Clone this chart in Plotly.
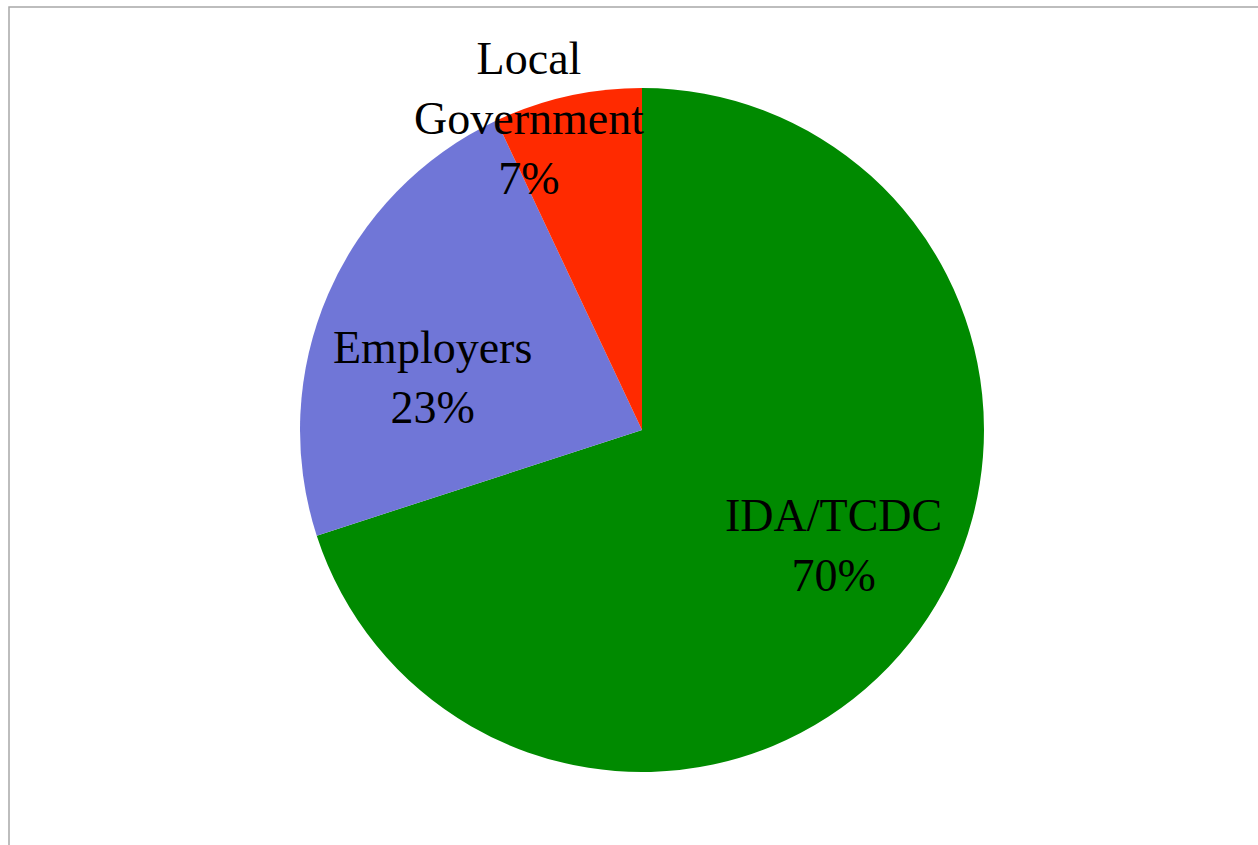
import plotly.graph_objects as go

labels = ["IDA/TCDC", "Employers", "Local<br>Government"]
values = [70, 23, 7]
colors = ["#008a00", "#7076d7", "#ff2a00"]

W, H = 1258, 845
cx, cy, r = 642, 430, 342

fig = go.Figure()
fig.add_trace(go.Pie(
    labels=labels,
    values=values,
    sort=False,
    direction="clockwise",
    rotation=0,
    marker=dict(colors=colors, line=dict(width=0)),
    textinfo="none",
    hoverinfo="label+percent",
    showlegend=False,
    domain=dict(x=[(cx - r) / W, (cx + r) / W], y=[1 - (cy + r) / H, 1 - (cy - r) / H]),
))

# label anchor positions (pixels) for each slice's text block
label_pos = [(833, 545), (432, 378), (529, 119)]
total = sum(values)
for lab, v, (px, py) in zip(labels, values, label_pos):
    fig.add_annotation(
        x=px / W, y=1 - py / H, xref="paper", yref="paper",
        text=f"{lab}<br>{round(100 * v / total)}%",
        showarrow=False, xanchor="center", yanchor="middle",
        font=dict(family="Liberation Serif", size=46, color="black"),
    )

fig.add_shape(type="rect", xref="paper", yref="paper",
              x0=9 / W, x1=1.02, y0=-0.02, y1=1 - 7 / H,
              line=dict(color="#a8a8a8", width=1.5), fillcolor="rgba(0,0,0,0)")

fig.update_layout(
    width=W, height=H,
    margin=dict(l=0, r=0, t=0, b=0),
    paper_bgcolor="white", plot_bgcolor="white",
)
fig.write_html("out.html", config={"displayModeBar": False},
               post_script="document.body.style.margin='0';")
